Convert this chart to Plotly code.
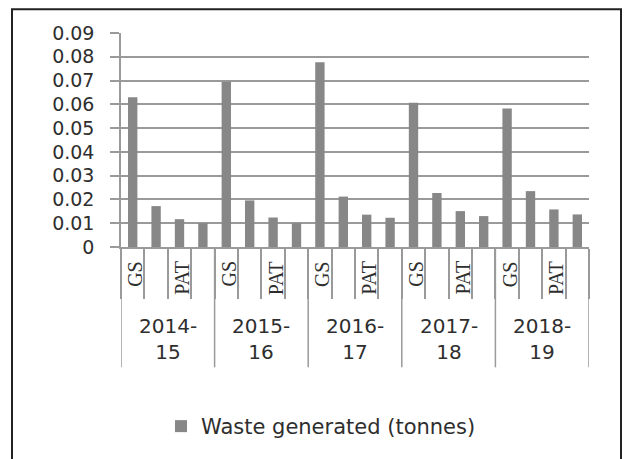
import plotly.graph_objects as go

years = ["2014-15", "2015-16", "2016-17", "2017-18", "2018-19"]
sub_labels = ["GS", "", "PAT", ""]
waste = [
    0.063, 0.0172, 0.0117, 0.0100,
    0.0695, 0.0196, 0.0124, 0.0100,
    0.0777, 0.0212, 0.0136, 0.0123,
    0.0607, 0.0227, 0.0151, 0.0130,
    0.0582, 0.0235, 0.0158, 0.0137,
]
y_ticks = [0, 0.01, 0.02, 0.03, 0.04, 0.05, 0.06, 0.07, 0.08, 0.09]
y_tick_text = ["0", "0.01", "0.02", "0.03", "0.04", "0.05", "0.06", "0.07", "0.08", "0.09"]
series_name = "Waste generated (tonnes)"

n_sub = len(sub_labels)
xs = list(range(len(waste)))

# plot-area geometry (pixels) used to convert to paper coords
L, R, T, B = 121, 589, 33, 250
W, H = R - L, B - T
def px_x(p):
    return (p - L) / W
def px_y(p):
    return (B - p) / H

fig = go.Figure()
fig.add_trace(go.Bar(
    x=xs, y=waste, name=series_name, width=0.4,
    marker=dict(color="#878787", line=dict(width=0)),
    showlegend=True,
))

font = "DejaVu Sans"
txt = "#2e2e2e"
annotations = []
shapes = []
# sub labels
for i in xs:
    lab = sub_labels[i % n_sub]
    if lab:
        annotations.append(dict(
            x=i + 0.1, y=px_y(262), xref="x", yref="paper", text=lab, showarrow=False,
            textangle=-90, xanchor="center", yanchor="top",
            font=dict(family="Liberation Serif", size=20, color=txt),
        ))
# year labels and dividers
for g, yr in enumerate(years):
    c = g * n_sub + (n_sub - 1) / 2
    a, b = yr.split("-")
    annotations.append(dict(
        x=c, y=px_y(343), xref="x", yref="paper", text=a + "-<br>" + b,
        showarrow=False, xanchor="center", yanchor="middle",
        font=dict(family=font, size=20, color=txt),
    ))
for g in range(len(years) + 1):
    xb = g * n_sub - 0.5
    shapes.append(dict(type="line", xref="x", yref="paper", x0=xb, x1=xb,
                       y0=0, y1=px_y(372), line=dict(color="#9a9a9a", width=1.5)))
# outer border
shapes.append(dict(type="rect", xref="paper", yref="paper",
                   x0=px_x(12), x1=px_x(621), y0=px_y(470), y1=px_y(9),
                   line=dict(color="#222222", width=2)))

fig.update_layout(
    width=624, height=459,
    margin=dict(l=L, r=624 - R, t=T, b=459 - B),
    paper_bgcolor="white", plot_bgcolor="white",
    font=dict(family=font, color=txt),
    xaxis=dict(
        range=[-0.5, len(waste) - 0.5],
        tickmode="array", tickvals=[i - 0.5 for i in range(len(waste) + 1)],
        ticks="outside", ticklen=50, tickwidth=1.5, tickcolor="#9a9a9a",
        showticklabels=False, showgrid=False, zeroline=False,
        showline=True, linecolor="#9a9a9a", linewidth=1.5,
    ),
    yaxis=dict(
        range=[0, 0.09], tickmode="array", tickvals=y_ticks, ticktext=y_tick_text,
        ticks="outside", ticklen=9, tickwidth=1.5, tickcolor="#9a9a9a",
        ticklabelstandoff=12,
        showgrid=True, gridcolor="#9a9a9a", gridwidth=1.5,
        zeroline=False, showline=True, linecolor="#9a9a9a", linewidth=1.5,
        tickfont=dict(family=font, size=19, color=txt),
    ),
    legend=dict(
        orientation="h", x=px_x(321), y=px_y(432), xanchor="center", yanchor="middle",
        font=dict(family=font, size=21, color=txt),
        bgcolor="rgba(0,0,0,0)",
    ),
    annotations=annotations,
    shapes=shapes,
)

fig.write_html("out.html")
